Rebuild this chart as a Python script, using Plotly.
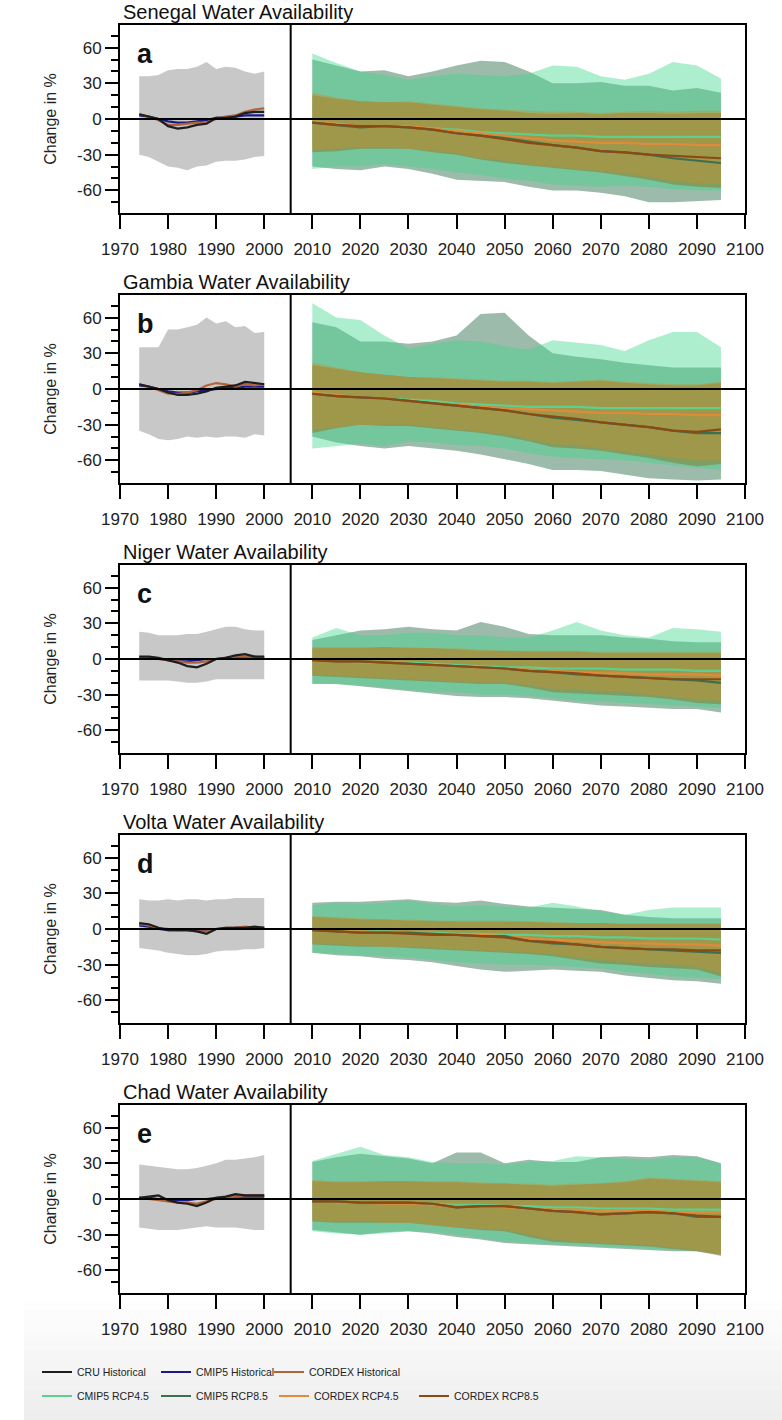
import plotly.graph_objects as go

W, H = 782, 1420

# ---------------- data ----------------
hist_years = [1974, 1976, 1978, 1980, 1982, 1984, 1986, 1988, 1990, 1992, 1994, 1996, 1998, 2000]
fut_years = [2010, 2015, 2020, 2025, 2030, 2035, 2040, 2045, 2050, 2055, 2060, 2065, 2070, 2075, 2080, 2085, 2090, 2095]

basins = ["Senegal", "Gambia", "Niger", "Volta", "Chad"]
letters = ["a", "b", "c", "d", "e"]
tick_years = [1970, 1980, 1990, 2000, 2010, 2020, 2030, 2040, 2050, 2060, 2070, 2080, 2090, 2100]
y_ticks = [-60, -30, 0, 30, 60]

# --- Senegal (a)
sen_hist_hi = [36, 36, 37, 41, 42, 42, 44, 48, 42, 44, 43, 40, 38, 40]
sen_hist_lo = [-30, -32, -36, -40, -41, -43, -40, -39, -36, -35, -35, -34, -32, -31]
sen_cru = [4, 2, 0, -6, -8, -7, -5, -4, 1, 1, 2, 5, 6, 6]
sen_cmip5_hist = [3, 2, 0, -2, -3, -3, -2, -1, 1, 1, 2, 3, 3, 3]
sen_cordex_hist = [4, 2, -1, -5, -5, -4, -3, -3, 0, 2, 3, 6, 8, 9]
sen_c45_hi = [55, 47, 40, 37, 33, 36, 38, 37, 36, 38, 45, 44, 36, 33, 38, 48, 45, 34]
sen_c45_lo = [-42, -40, -40, -38, -40, -42, -45, -47, -50, -52, -55, -56, -57, -56, -57, -59, -60, -60]
sen_c85_hi = [50, 45, 40, 41, 36, 40, 45, 49, 48, 40, 30, 30, 31, 28, 28, 24, 26, 22]
sen_c85_lo = [-40, -42, -43, -40, -42, -46, -51, -52, -53, -57, -60, -60, -62, -65, -70, -70, -69, -68]
sen_x45_hi = [22, 18, 15, 14, 15, 13, 11, 9, 8, 7, 6, 6, 5, 6, 7, 6, 7, 7]
sen_x45_lo = [-26, -25, -24, -24, -25, -27, -29, -33, -35, -38, -40, -42, -44, -46, -49, -52, -54, -55]
sen_x85_hi = [20, 17, 15, 14, 14, 12, 10, 8, 7, 5, 4, 5, 4, 5, 5, 4, 5, 5]
sen_x85_lo = [-28, -27, -25, -25, -25, -28, -30, -34, -37, -39, -41, -43, -45, -48, -51, -55, -57, -58]
sen_c45 = [-2, -4, -6, -6, -7, -8, -9, -11, -12, -13, -14, -14, -15, -15, -15, -15, -15, -15]
sen_c85 = [-3, -5, -7, -6, -7, -9, -12, -14, -16, -19, -22, -24, -27, -28, -30, -33, -35, -37]
sen_x45 = [-2, -4, -6, -6, -6, -8, -10, -12, -14, -16, -18, -19, -20, -20, -21, -21, -22, -22]
sen_x85 = [-3, -5, -6, -6, -7, -9, -12, -14, -17, -20, -22, -24, -27, -28, -30, -31, -32, -33]

# --- Gambia (b)
gam_hist_hi = [35, 35, 35, 50, 50, 52, 54, 60, 55, 57, 52, 53, 47, 48]
gam_hist_lo = [-35, -38, -42, -43, -42, -40, -41, -40, -41, -40, -40, -41, -38, -39]
gam_cru = [4, 2, 0, -3, -5, -5, -4, -2, 1, 2, 3, 6, 5, 4]
gam_cmip5_hist = [3, 2, 0, -2, -3, -3, -2, -1, 0, 1, 1, 2, 2, 2]
gam_cordex_hist = [4, 2, -1, -4, -4, -3, -1, 3, 5, 4, 2, 4, 3, 4]
gam_c45_hi = [72, 60, 58, 45, 34, 38, 41, 40, 36, 33, 41, 39, 37, 32, 41, 48, 48, 35]
gam_c45_lo = [-50, -48, -46, -48, -44, -45, -47, -48, -50, -54, -57, -58, -59, -60, -62, -64, -66, -68]
gam_c85_hi = [56, 52, 40, 40, 38, 40, 45, 63, 64, 45, 30, 27, 25, 22, 20, 18, 18, 18]
gam_c85_lo = [-40, -45, -48, -50, -48, -50, -52, -55, -59, -63, -68, -68, -69, -72, -75, -76, -77, -76]
gam_x45_hi = [22, 18, 14, 12, 10, 10, 9, 8, 7, 7, 6, 7, 8, 6, 5, 4, 4, 6]
gam_x45_lo = [-34, -32, -30, -30, -30, -32, -34, -36, -38, -42, -46, -48, -50, -53, -55, -58, -60, -60]
gam_x85_hi = [20, 17, 14, 12, 10, 9, 8, 7, 6, 6, 5, 6, 7, 5, 4, 3, 3, 5]
gam_x85_lo = [-37, -33, -30, -31, -31, -33, -35, -37, -40, -44, -49, -50, -52, -55, -58, -62, -65, -63]
gam_c45 = [-3, -5, -7, -8, -9, -10, -12, -13, -14, -15, -15, -15, -16, -16, -16, -16, -16, -16]
gam_c85 = [-4, -6, -7, -8, -10, -12, -14, -16, -18, -21, -24, -26, -28, -30, -32, -35, -37, -37]
gam_x45 = [-3, -5, -7, -8, -10, -12, -13, -15, -16, -17, -18, -19, -20, -20, -21, -21, -22, -22]
gam_x85 = [-4, -6, -7, -8, -10, -12, -14, -16, -18, -21, -23, -25, -28, -30, -32, -35, -36, -34]

# --- Niger (c)
nig_hist_hi = [23, 22, 20, 20, 20, 21, 21, 23, 25, 27, 27, 25, 24, 24]
nig_hist_lo = [-18, -18, -18, -18, -19, -20, -20, -19, -17, -17, -17, -17, -17, -17]
nig_cru = [2, 2, 1, -1, -3, -6, -7, -4, 0, 1, 3, 4, 2, 2]
nig_cmip5_hist = [1, 1, 0, -1, -2, -2, -1, 0, 0, 1, 1, 1, 1, 1]
nig_cordex_hist = [1, 1, 0, -1, -2, -3, -3, -2, 0, 1, 2, 2, 2, 1]
nig_c45_hi = [18, 26, 20, 20, 22, 22, 20, 20, 18, 18, 24, 31, 24, 20, 18, 26, 25, 23]
nig_c45_lo = [-20, -21, -22, -24, -26, -28, -28, -30, -30, -31, -33, -35, -36, -37, -38, -39, -40, -41]
nig_c85_hi = [16, 20, 24, 25, 27, 25, 24, 31, 27, 21, 20, 20, 20, 18, 17, 15, 14, 14]
nig_c85_lo = [-21, -21, -23, -25, -27, -29, -31, -32, -32, -33, -35, -37, -39, -40, -41, -42, -42, -45]
nig_x45_hi = [10, 10, 10, 10, 10, 9, 9, 8, 7, 7, 7, 7, 6, 6, 6, 6, 6, 6]
nig_x45_lo = [-13, -14, -15, -16, -17, -18, -19, -20, -20, -22, -25, -26, -27, -28, -30, -32, -34, -35]
nig_x85_hi = [9, 9, 9, 10, 9, 9, 8, 7, 7, 6, 6, 6, 5, 5, 5, 5, 5, 5]
nig_x85_lo = [-14, -15, -16, -17, -18, -19, -20, -21, -21, -24, -28, -29, -30, -31, -32, -34, -37, -38]
nig_c45 = [-1, -2, -2, -3, -3, -4, -5, -6, -7, -7, -8, -8, -8, -9, -9, -9, -10, -10]
nig_c85 = [-1, -2, -2, -3, -4, -5, -6, -7, -8, -10, -11, -13, -14, -15, -16, -17, -18, -20]
nig_x45 = [-1, -2, -3, -3, -4, -5, -6, -7, -8, -9, -10, -11, -12, -12, -13, -13, -13, -14]
nig_x85 = [-1, -2, -2, -3, -4, -5, -6, -7, -8, -10, -11, -12, -14, -15, -16, -17, -17, -17]

# --- Volta (d)
vol_hist_hi = [25, 24, 24, 25, 24, 25, 25, 24, 25, 25, 26, 26, 26, 26]
vol_hist_lo = [-16, -17, -18, -20, -21, -22, -22, -21, -19, -18, -18, -17, -17, -16]
vol_cru = [5, 4, 1, -1, -1, -1, -2, -4, 0, 1, 1, 1, 2, 1]
vol_cmip5_hist = [3, 2, 0, -1, -1, -1, -1, -1, 0, 0, 1, 1, 1, 1]
vol_cordex_hist = [4, 3, 1, 0, -1, -1, -2, -2, 0, 1, 1, 2, 1, 1]
vol_c45_hi = [20, 22, 21, 22, 24, 21, 19, 20, 19, 18, 22, 19, 15, 12, 16, 18, 18, 18]
vol_c45_lo = [-20, -21, -22, -23, -24, -26, -28, -29, -30, -30, -31, -32, -33, -36, -38, -40, -41, -42]
vol_c85_hi = [22, 23, 23, 24, 25, 23, 22, 24, 21, 19, 18, 17, 16, 12, 10, 9, 9, 9]
vol_c85_lo = [-20, -22, -23, -25, -26, -28, -31, -34, -36, -35, -34, -35, -36, -39, -41, -43, -44, -46]
vol_x45_hi = [11, 10, 9, 8, 8, 7, 7, 7, 7, 6, 6, 5, 5, 5, 5, 5, 5, 5]
vol_x45_lo = [-12, -13, -14, -15, -15, -16, -17, -18, -19, -20, -21, -24, -26, -28, -29, -30, -32, -37]
vol_x85_hi = [10, 9, 8, 8, 7, 7, 6, 6, 6, 6, 5, 5, 5, 4, 4, 4, 4, 4]
vol_x85_lo = [-13, -14, -15, -15, -16, -17, -18, -19, -20, -21, -23, -26, -29, -30, -32, -33, -34, -40]
vol_c45 = [-1, -1, -2, -2, -3, -3, -4, -4, -5, -5, -6, -6, -7, -7, -8, -8, -8, -9]
vol_c85 = [-1, -2, -3, -3, -3, -4, -5, -6, -6, -10, -12, -13, -15, -16, -17, -18, -19, -20]
vol_x45 = [-1, -2, -2, -3, -3, -4, -5, -5, -6, -8, -9, -10, -11, -12, -12, -13, -13, -14]
vol_x85 = [-1, -2, -3, -3, -4, -5, -5, -6, -7, -10, -11, -13, -15, -16, -17, -17, -18, -18]

# --- Chad (e)
cha_hist_hi = [29, 28, 27, 26, 25, 25, 26, 28, 30, 33, 33, 34, 35, 37]
cha_hist_lo = [-24, -25, -26, -26, -26, -25, -24, -23, -24, -24, -24, -25, -26, -26]
cha_cru = [1, 2, 3, -1, -3, -4, -6, -3, 1, 2, 4, 3, 3, 3]
cha_cmip5_hist = [1, 1, 0, -1, -1, -1, 0, 0, 1, 1, 2, 2, 2, 2]
cha_cordex_hist = [0, 0, -1, -2, -3, -3, -4, -2, 0, 1, 2, 3, 3, 3]
cha_c45_hi = [32, 38, 44, 37, 35, 31, 30, 30, 29, 31, 32, 36, 35, 34, 33, 35, 35, 30]
cha_c45_lo = [-27, -29, -30, -29, -27, -28, -30, -33, -36, -37, -38, -39, -40, -41, -42, -43, -44, -46]
cha_c85_hi = [31, 35, 38, 36, 34, 30, 39, 39, 30, 33, 31, 31, 35, 36, 35, 37, 36, 30]
cha_c85_lo = [-26, -28, -30, -28, -27, -29, -32, -34, -37, -38, -39, -40, -41, -42, -43, -44, -44, -47]
cha_x45_hi = [16, 15, 15, 15, 15, 15, 15, 14, 13, 13, 12, 13, 13, 15, 18, 17, 16, 15]
cha_x45_lo = [-18, -19, -19, -20, -20, -22, -24, -25, -26, -30, -34, -36, -37, -38, -39, -41, -43, -46]
cha_x85_hi = [15, 14, 14, 15, 15, 14, 14, 13, 13, 12, 11, 12, 13, 14, 17, 16, 15, 14]
cha_x85_lo = [-19, -20, -20, -20, -20, -22, -24, -26, -27, -32, -36, -37, -38, -39, -40, -42, -44, -48]
cha_c45 = [-2, -2, -3, -3, -3, -4, -5, -5, -6, -6, -7, -7, -8, -8, -8, -9, -9, -9]
cha_c85 = [-2, -2, -3, -3, -3, -4, -7, -6, -6, -8, -10, -11, -13, -12, -11, -12, -15, -15]
cha_x45 = [-2, -3, -3, -4, -4, -5, -6, -6, -7, -8, -9, -9, -10, -10, -10, -11, -11, -11]
cha_x85 = [-2, -2, -3, -3, -3, -4, -7, -6, -6, -8, -10, -11, -13, -12, -11, -12, -14, -15]

panels = [
    dict(hist_hi=sen_hist_hi, hist_lo=sen_hist_lo, cru=sen_cru, cmip5_hist=sen_cmip5_hist, cordex_hist=sen_cordex_hist,
         c45_hi=sen_c45_hi, c45_lo=sen_c45_lo, c85_hi=sen_c85_hi, c85_lo=sen_c85_lo,
         x45_hi=sen_x45_hi, x45_lo=sen_x45_lo, x85_hi=sen_x85_hi, x85_lo=sen_x85_lo,
         c45=sen_c45, c85=sen_c85, x45=sen_x45, x85=sen_x85),
    dict(hist_hi=gam_hist_hi, hist_lo=gam_hist_lo, cru=gam_cru, cmip5_hist=gam_cmip5_hist, cordex_hist=gam_cordex_hist,
         c45_hi=gam_c45_hi, c45_lo=gam_c45_lo, c85_hi=gam_c85_hi, c85_lo=gam_c85_lo,
         x45_hi=gam_x45_hi, x45_lo=gam_x45_lo, x85_hi=gam_x85_hi, x85_lo=gam_x85_lo,
         c45=gam_c45, c85=gam_c85, x45=gam_x45, x85=gam_x85),
    dict(hist_hi=nig_hist_hi, hist_lo=nig_hist_lo, cru=nig_cru, cmip5_hist=nig_cmip5_hist, cordex_hist=nig_cordex_hist,
         c45_hi=nig_c45_hi, c45_lo=nig_c45_lo, c85_hi=nig_c85_hi, c85_lo=nig_c85_lo,
         x45_hi=nig_x45_hi, x45_lo=nig_x45_lo, x85_hi=nig_x85_hi, x85_lo=nig_x85_lo,
         c45=nig_c45, c85=nig_c85, x45=nig_x45, x85=nig_x85),
    dict(hist_hi=vol_hist_hi, hist_lo=vol_hist_lo, cru=vol_cru, cmip5_hist=vol_cmip5_hist, cordex_hist=vol_cordex_hist,
         c45_hi=vol_c45_hi, c45_lo=vol_c45_lo, c85_hi=vol_c85_hi, c85_lo=vol_c85_lo,
         x45_hi=vol_x45_hi, x45_lo=vol_x45_lo, x85_hi=vol_x85_hi, x85_lo=vol_x85_lo,
         c45=vol_c45, c85=vol_c85, x45=vol_x45, x85=vol_x85),
    dict(hist_hi=cha_hist_hi, hist_lo=cha_hist_lo, cru=cha_cru, cmip5_hist=cha_cmip5_hist, cordex_hist=cha_cordex_hist,
         c45_hi=cha_c45_hi, c45_lo=cha_c45_lo, c85_hi=cha_c85_hi, c85_lo=cha_c85_lo,
         x45_hi=cha_x45_hi, x45_lo=cha_x45_lo, x85_hi=cha_x85_hi, x85_lo=cha_x85_lo,
         c45=cha_c45, c85=cha_c85, x45=cha_x45, x85=cha_x85),
]

# ---------------- styles ----------------
FONT = "Liberation Sans, Arial, sans-serif"
HIST_FILL = "rgb(200,200,200)"
C85_FILL = "rgba(60,120,85,0.5)"
C45_FILL = "rgba(60,215,140,0.42)"
X85_FILL = "rgba(140,110,30,0.45)"
X45_FILL = "rgba(205,140,35,0.42)"

COL_CRU = "#1e1e1e"
COL_CMIP5_HIST = "#1a1a8c"
COL_CORDEX_HIST = "#b0643c"
COL_C45 = "#5fcf8f"
COL_C85 = "#3c6e50"
COL_X45 = "#e08a3c"
COL_X85 = "#8b4a14"

X_LEFT, X_RIGHT = 120, 745
PANEL_TOPS = [25, 295, 565, 835, 1105]
PANEL_H = 188


def px_x(p):
    # window pixel -> paper fraction
    return p / W


def px_y(p):
    return 1 - p / H


fig = go.Figure()
shapes = []
annotations = []

# light grey gradient behind the legend area
n_strips = 12
for k in range(n_strips):
    y0 = 1300 + k * 10
    g = 254 - k * 1.5
    shapes.append(dict(type="rect", xref="paper", yref="paper", layer="below",
                       x0=px_x(24), x1=1, y0=px_y(y0 + 10), y1=px_y(y0),
                       fillcolor=f"rgb({g:.0f},{g:.0f},{g:.0f})", line=dict(width=0)))
shapes.append(dict(type="rect", xref="paper", yref="paper", layer="below",
                   x0=px_x(24), x1=1, y0=0, y1=px_y(1420),
                   fillcolor="rgb(236,236,236)", line=dict(width=0)))

for i, pdat in enumerate(panels):
    n = i + 1
    xa = "x" if n == 1 else f"x{n}"
    ya = "y" if n == 1 else f"y{n}"
    first = (i == 0)

    def band(x, lo, hi, fill, name):
        fig.add_trace(go.Scatter(x=x, y=lo, mode="lines", line=dict(width=0), xaxis=xa, yaxis=ya,
                                 showlegend=False, hoverinfo="skip", name=name + " low"))
        fig.add_trace(go.Scatter(x=x, y=hi, mode="lines", line=dict(width=0), fill="tonexty",
                                 fillcolor=fill, xaxis=xa, yaxis=ya, showlegend=False,
                                 hoverinfo="skip", name=name + " high"))

    band(hist_years, pdat["hist_lo"], pdat["hist_hi"], HIST_FILL, "Historical spread")
    band(fut_years, pdat["c85_lo"], pdat["c85_hi"], C85_FILL, "CMIP5 RCP8.5 spread")
    band(fut_years, pdat["c45_lo"], pdat["c45_hi"], C45_FILL, "CMIP5 RCP4.5 spread")
    band(fut_years, pdat["x85_lo"], pdat["x85_hi"], X85_FILL, "CORDEX RCP8.5 spread")
    band(fut_years, pdat["x45_lo"], pdat["x45_hi"], X45_FILL, "CORDEX RCP4.5 spread")

    def line(x, y, color, name, legend, rank, lw):
        fig.add_trace(go.Scatter(x=x, y=y, mode="lines", line=dict(color=color, width=2.2),
                                 xaxis=xa, yaxis=ya, name=name, showlegend=first,
                                 legend=legend, legendrank=rank, legendwidth=lw))

    line(hist_years, pdat["cmip5_hist"], COL_CMIP5_HIST, "CMIP5 Historical", "legend", 2, 68)
    line(hist_years, pdat["cordex_hist"], COL_CORDEX_HIST, "CORDEX Historical", "legend", 3, 110)
    line(hist_years, pdat["cru"], COL_CRU, "CRU Historical", "legend", 1, 74)
    line(fut_years, pdat["c45"], COL_C45, "CMIP5 RCP4.5", "legend2", 1, 74)
    line(fut_years, pdat["x45"], COL_X45, "CORDEX RCP4.5", "legend2", 3, 95)
    line(fut_years, pdat["c85"], COL_C85, "CMIP5 RCP8.5", "legend2", 2, 73)
    line(fut_years, pdat["x85"], COL_X85, "CORDEX RCP8.5", "legend2", 4, 100)

    top = PANEL_TOPS[i]
    bot = top + PANEL_H
    xkey = "xaxis" if n == 1 else f"xaxis{n}"
    ykey = "yaxis" if n == 1 else f"yaxis{n}"
    fig.layout[xkey] = dict(
        domain=[px_x(X_LEFT), px_x(X_RIGHT)], anchor=ya, range=[1970, 2100],
        tickmode="array", tickvals=tick_years, ticktext=[str(t) for t in tick_years],
        ticks="outside", ticklen=14, tickwidth=2, tickcolor="black",
        showline=True, linewidth=2, linecolor="black", mirror=True,
        showgrid=False, zeroline=False, ticklabelstandoff=6,
        tickfont=dict(family=FONT, size=17, color="#222"), automargin=False)
    fig.layout[ykey] = dict(
        domain=[px_y(bot), px_y(top)], anchor=xa, range=[-79, 79],
        tickmode="array", tickvals=y_ticks, ticktext=[str(t) for t in y_ticks],
        ticks="outside", ticklen=13, tickwidth=2, tickcolor="black",
        minor=dict(tickmode="linear", tick0=0, dtick=10, ticks="outside", ticklen=7,
                   tickwidth=1.5, tickcolor="black", showgrid=False),
        showline=True, linewidth=2, linecolor="black", mirror=True,
        showgrid=False, zeroline=False,
        tickfont=dict(family=FONT, size=17, color="#222"),
        title=dict(text="Change in %", font=dict(family=FONT, size=16, color="#222"), standoff=16),
        automargin=False)

    # reference lines: zero line and divider between historical and future periods
    shapes.append(dict(type="line", xref=f"{xa} domain", yref=ya, x0=0, x1=1, y0=0, y1=0,
                       line=dict(color="black", width=2), layer="above"))
    shapes.append(dict(type="line", xref=xa, yref=f"{ya} domain", x0=2005.5, x1=2005.5, y0=0, y1=1,
                       line=dict(color="black", width=2), layer="above"))

    annotations.append(dict(text=f"{basins[i]} Water Availability", xref="paper", yref="paper",
                            x=px_x(121), y=px_y(top - 13), xanchor="left", yanchor="middle",
                            showarrow=False, font=dict(family=FONT, size=20, color="#111")))
    annotations.append(dict(text=f"<b>{letters[i]}</b>", xref="paper", yref="paper",
                            x=px_x(135), y=px_y(top + 29), xanchor="left", yanchor="middle",
                            showarrow=False, font=dict(family=FONT, size=27, color="#111")))

fig.update_layout(
    width=W, height=H,
    margin=dict(l=0, r=0, t=0, b=0),
    paper_bgcolor="white", plot_bgcolor="white",
    shapes=shapes, annotations=annotations,
    font=dict(family=FONT, color="#222"),
    legend=dict(orientation="h", x=px_x(37), y=px_y(1372), xanchor="left", yanchor="middle",
                bgcolor="rgba(0,0,0,0)", font=dict(family=FONT, size=10.5, color="#222"),
                itemwidth=30, traceorder="normal"),
    legend2=dict(orientation="h", x=px_x(37), y=px_y(1396), xanchor="left", yanchor="middle",
                 bgcolor="rgba(0,0,0,0)", font=dict(family=FONT, size=10.5, color="#222"),
                 itemwidth=30, traceorder="normal"),
    hovermode=False,
)

# remove the browser's default 8px page margin so the figure fills the window exactly
fig.write_html("out.html",
               config={"displayModeBar": False},
               post_script="document.body.style.margin='0';document.body.style.padding='0';"
                           "document.body.style.overflow='hidden';")
